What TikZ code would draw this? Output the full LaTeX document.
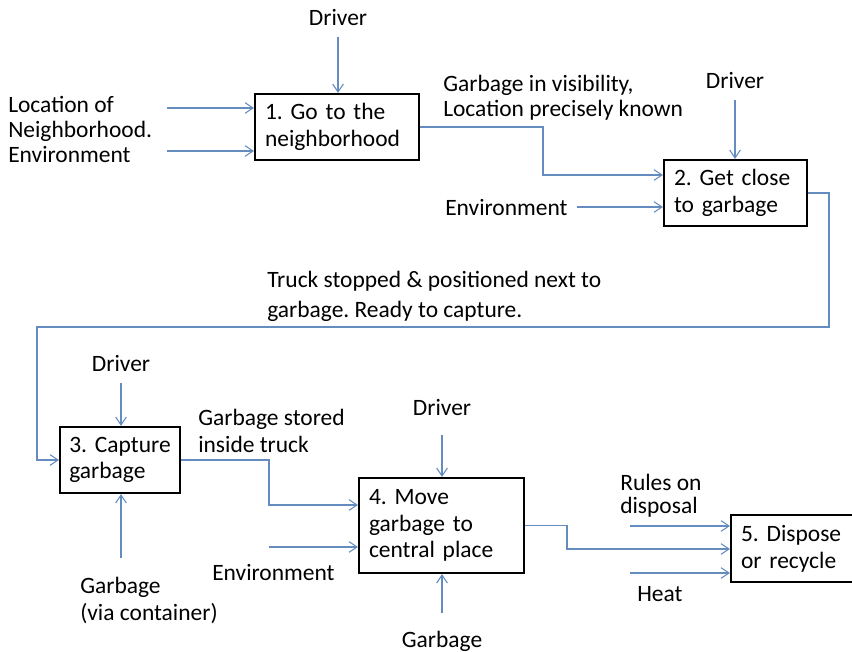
\documentclass[tikz,border=0pt]{standalone}
\usepackage{fontspec}
\setmainfont{Carlito}
\usetikzlibrary{arrows.meta}
\definecolor{flowblue}{RGB}{100,140,190}
\tikzset{
  proc/.style={draw, line width=1.6pt, align=left, inner xsep=7.5pt, font=\fontsize{17.6}{20}\selectfont},
  lbl/.style={inner sep=0pt, align=left, font=\fontsize{17.6}{18.75}\selectfont},
  flow/.style={draw=flowblue, line width=0.8pt, -{Straight Barb[length=6pt,width=8pt]}},
}
\frenchspacing
\hyphenpenalty=10000
\begin{document}
\begin{tikzpicture}[x=0.75pt,y=-0.75pt]
\useasboundingbox (0,0) rectangle (852,652);

% process boxes
\node[proc, text width=108pt, minimum height=49.5pt] (b1) at (337,127) {1. Go to the\\neighborhood};
\node[proc, text width=92.25pt, minimum height=49.5pt] (b2) at (735.5,193) {2. Get close\\to garbage};
\node[proc, inner xsep=7pt, text width=76pt, minimum height=49.5pt] (b3) at (120,460) {3.~Capture\\garbage};
\node[proc, text width=108.75pt, minimum height=71.25pt] (b4) at (441.5,525.5) {4. Move\\garbage to\\central place};
\node[proc, text width=90pt, minimum height=50.25pt] (b5) at (801,548.5) {5. Dispose\\or recycle};

% labels
\node[lbl, anchor=base] (drv1) at (338,26) {Driver};
\node[lbl, anchor=base west] (loc1) at (8,138) {Location of\\Neighborhood.};
\node[lbl, anchor=base west] (env1) at (8,163) {Environment};
\node[lbl, anchor=base west] (vis) at (443,117) {Garbage in visibility,\\Location precisely known};
\node[lbl, anchor=base] (drv2) at (735,89) {Driver};
\node[lbl, anchor=base west] (env2) at (445,215) {Environment};
\node[lbl, anchor=base west, font=\fontsize{17.6}{22.5}\selectfont] (stop) at (267,317) {Truck stopped \& positioned next to\\garbage. Ready to capture.};
\node[lbl, anchor=base] (drv3) at (121,371) {Driver};
\node[lbl, anchor=base west, font=\fontsize{17.6}{20.25}\selectfont] (stored) at (198,452) {Garbage stored\\inside truck};
\node[lbl, anchor=base west, font=\fontsize{17.6}{20.25}\selectfont] (gcont) at (80,620) {Garbage\\(via container)};
\node[lbl, anchor=base] (drv4) at (442,415) {Driver};
\node[lbl, anchor=base west] (env4) at (212,580) {Environment};
\node[lbl, anchor=base] (garb4) at (442,647) {Garbage};
\node[lbl, anchor=base west, font=\fontsize{17.6}{17.25}\selectfont] (rules) at (620,513) {Rules on\\disposal};
\node[lbl, anchor=base west] (heat) at (637,601) {Heat};

% free ends and bends
\coordinate (d1) at (338,37);
\coordinate (i1a) at (167,108);
\coordinate (i1b) at (167,151);
\coordinate (v1) at (543,175);
\coordinate (d2) at (735,100);
\coordinate (i2) at (577,207);
\coordinate (r2) at (829,327);
\coordinate (l3) at (37,460);
\coordinate (d3) at (121,383);
\coordinate (u3) at (121,558);
\coordinate (v3) at (269,505);
\coordinate (i4) at (269,547);
\coordinate (d4) at (442,435);
\coordinate (u4) at (442,613);
\coordinate (v4) at (567,549);
\coordinate (i5a) at (630,526);
\coordinate (i5b) at (630,573);

% box 1
\draw[flow] (d1) -- (d1 |- b1.north);
\draw[flow] (i1a) -- (i1a -| b1.west);
\draw[flow] (i1b) -- (i1b -| b1.west);
\draw[flow] (b1.east) -| (v1) -- (v1 -| b2.west);
% box 2
\draw[flow] (d2) -- (d2 |- b2.north);
\draw[flow] (i2) -- (i2 -| b2.west);
\draw[flow] (b2.east) -| (r2) -| (l3) -- (b3.west);
% box 3
\draw[flow] (d3) -- (d3 |- b3.north);
\draw[flow] (u3) -- (u3 |- b3.south);
\draw[flow] (b3.east) -| (v3) -- (v3 -| b4.west);
% box 4
\draw[flow] (i4) -- (i4 -| b4.west);
\draw[flow] (d4) -- (d4 |- b4.north);
\draw[flow] (u4) -- (u4 |- b4.south);
\draw[flow] (b4.east) -| (v4) -- (v4 -| b5.west);
% box 5
\draw[flow] (i5a) -- (i5a -| b5.west);
\draw[flow] (i5b) -- (i5b -| b5.west);
\end{tikzpicture}
\end{document}
